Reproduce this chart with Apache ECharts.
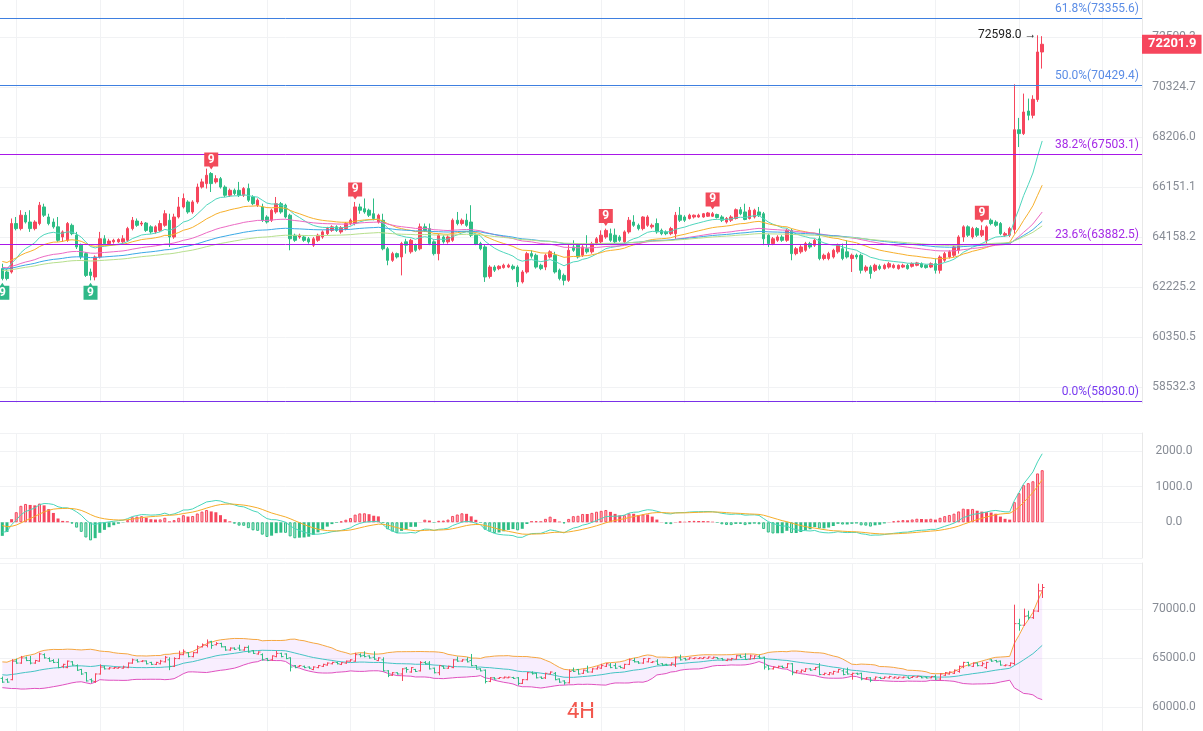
<!DOCTYPE html>
<html>
<head>
<meta charset="utf-8">
<title>BTC 4H</title>
<script src="https://cdn.jsdelivr.net/npm/echarts@6.0.0/dist/echarts.min.js"></script>
<style>
html,body{margin:0;padding:0;background:#ffffff;}
#chart{width:1203px;height:731px;}
</style>
</head>
<body>
<div id="chart"></div>
<script>
// ---------------- DATA ----------------
// 4H candles: [open, close, low, high]
const ohlc = [
[62940,62560,62490,63130],[62810,62560,62490,62940],[62810,64700,62750,64900],[64700,64500,64430,64960],[64500,65030,64430,65230],
[65030,64760,64700,65160],[64760,64500,64370,65230],[64500,64760,64430,64830],[64700,65430,64630,65560],[65360,65030,64960,65490],
[64960,64700,64630,65090],[64760,64570,64500,64900],[64570,64040,63980,64960],[64170,64370,63980,64430],[64040,64700,63980,64760],
[64630,64300,64240,64700],[64240,63780,63700,64370],[63850,63390,63300,63910],[63520,62680,62620,63580],[62810,62680,62490,62940],
[62620,63390,62490,63450],[63390,64100,63330,64370],[64100,63910,63850,64240],[63910,64010,63850,64100],[63980,64040,63910,64100],
[63980,64070,63940,64120],[63980,64100,63940,64240],[64040,64500,63980,64570],[64500,64830,64430,64960],[64800,64630,64570,64900],
[64680,64720,64600,64800],[64720,64430,64370,64760],[64570,64370,64300,64630],[64370,64570,64300,64630],[64430,64700,64370,64830],
[64630,65090,64570,65230],[64830,64170,63780,65090],[64170,64960,64100,65090],[64960,65360,64900,65760],[65360,65700,65300,65900],
[65560,65160,65090,65630],[65160,65560,65090,65630],[65560,66160,65490,66300],[66160,66370,66100,66500],[66300,66640,66100,66910],
[66710,66300,65960,66770],[66370,66500,66300,66640],[66500,66160,66100,66570],[66160,65830,65760,66230],[65830,66030,65760,66100],
[66030,65900,65830,66100],[66030,65830,65760,66370],[65830,66100,65760,66160],[66100,65630,65560,66300],[65760,65490,65430,65830],
[65430,65630,65360,65700],[65360,64830,64760,65490],[64960,64760,64700,65030],[64830,65230,64760,65290],[65160,65490,65090,65760],
[65490,65160,65090,65560],[65430,64960,64900,65490],[65030,64100,63650,65090],[64240,64040,63980,64300],[64170,64240,64100,64300],
[64170,64040,63980,64240],[64100,63980,63910,64170],[63850,64100,63780,64170],[64040,64240,63980,64300],[64170,64370,64100,64430],
[64300,64500,64240,64570],[64430,64570,64370,64630],[64570,64430,64370,64630],[64370,64540,64300,64600],[64500,64700,64430,64760],
[64700,64830,64630,64900],[64700,65360,64630,65560],[65360,65230,65090,65490],[65290,65160,65090,65700],[65230,65030,64960,65290],
[65090,64900,64830,65700],[64760,65030,64700,65090],[64830,63710,63650,65090],[63710,63260,63070,63780],[63260,63520,63200,63590],
[63520,63390,63330,63560],[63390,63910,62680,63980],[63980,63850,63520,64100],[63590,64040,63520,64100],[63850,63650,63590,63910],
[63710,64570,63650,64700],[64570,64430,64370,64700],[64500,63910,63850,64700],[63980,63520,63450,64040],[63520,64240,63260,64300],
[64170,63980,63910,64240],[63980,64170,63910,64240],[64040,64830,63980,64900],[64830,64700,64630,65160],[64700,64830,64630,64900],
[64830,64630,64570,65090],[64760,64240,64170,65430],[64240,63880,63850,64300],[63910,63710,63650,63980],[63780,62620,62430,63850],
[62640,63000,62560,63070],[63000,62880,62810,63070],[62940,63030,62880,63070],[62980,63070,62940,63130],[63000,63070,62960,63130],
[63030,62940,62880,63100],[63000,62430,62240,63070],[62430,62810,62370,62880],[62810,63520,62750,63590],[63520,63420,63330,63650],
[63456,63000,62940,63520],[63070,62940,62880,63130],[63000,63456,62880,63520],[63390,63590,63330,63650],[63456,62810,62750,63590],
[62880,62560,62490,62940],[62680,62490,62300,62750],[62490,63650,62430,63850],[63780,63650,63590,64040],[63850,63390,63330,63910],
[63456,63780,63390,63850],[63710,63590,63520,64240],[63590,63910,63520,63980],[63910,64100,63850,64170],[63980,64240,63910,64430],
[64170,64430,64100,64500],[64300,64040,63980,64500],[64240,63980,63910,64500],[64170,64040,63980,64240],[63980,64370,63910,64430],
[64370,64830,64300,64960],[64760,64630,64570,65030],[64630,64500,64430,64700],[64500,64960,64430,64990],[64630,64960,64570,65030],
[64570,64630,64500,64700],[64700,64370,64300,64900],[64430,64300,64240,64500],[64370,64300,64240,64430],[64300,64500,64240,64570],
[64300,65030,64100,65160],[65030,64830,64760,65360],[64960,64830,64760,65030],[64900,65030,64860,65090],[64960,65030,64900,65060],
[64960,65030,64930,65090],[64960,65090,64930,65120],[64990,65120,64960,65160],[64990,65090,64960,65160],[65060,64940,64900,65090],
[64960,64830,64760,65030],[64760,64900,64700,64960],[64830,64960,64760,65030],[64900,65250,64860,65300],[65250,65090,65030,65360],
[65160,64860,64830,65490],[64900,65230,64860,65360],[64960,65230,64900,65290],[65160,65030,64960,65360],[65090,64100,63850,65160],
[64240,63910,63780,64300],[63910,64100,63850,64170],[64040,64170,63980,64240],[64170,64040,63980,64240],[64040,64430,63980,64500],
[64430,63520,63262,64500],[63520,63710,63456,63780],[63590,63780,63520,63850],[63650,63910,63590,63980],[63910,63780,63710,63980],
[63850,64040,63780,64100],[64100,63330,63262,64500],[63330,63456,63262,63520],[63330,63520,63262,63590],[63390,63650,63330,63710],
[63590,63850,63520,63910],[63710,63330,63262,63910],[63590,63390,63330,64040],[63330,63456,62810,63520],[63456,63390,63300,63520],
[63456,62876,62750,63520],[62876,63000,62800,63069],[63000,62750,62555,63069],[62876,63069,62810,63130],[63030,62940,62880,63100],
[62940,63069,62900,63130],[63000,63130,62940,63200],[62980,63069,62940,63130],[62940,63069,62900,63100],[63000,63069,62960,63130],
[63069,62940,62900,63130],[63030,63130,62980,63180],[63069,63160,63030,63200],[63130,63000,62960,63180],[63069,62980,62940,63100],
[63000,63130,62960,63180],[63130,62876,62750,63330],[62876,63390,62750,63456],[63262,63520,63200,63590],[63390,63590,63330,63650],
[63456,63780,63390,63850],[63650,64170,63520,64240],[64170,64570,63980,64630],[64570,64240,64170,64630],[64170,64500,64100,64570],
[64500,64240,64170,64560],[64240,64430,64170,64630],[64040,64570,63910,64630],[64830,64700,64630,64900],[64760,64630,64570,64830],
[64700,64300,64240,64760],[64240,64300,64170,64370],[64240,64500,64170,64570],[64461,68521,64300,70453],[68521,68360,67800,69020],
[68360,69270,68300,70054],[69312,69130,68920,69840],[69130,69810,69000,69982],[69800,71860,69700,72598],[71860,72201.9,71134,72560]
];
const priceTicks = [58532.3, 60350.5, 62225.2, 64158.2, 66151.1, 68206.0, 70324.7, 72509.3];
const macdTicks = [0, 1000, 2000];
const bollTicks = [60000, 65000, 70000];
const fibNames  = ['0.0%', '23.6%', '38.2%', '50.0%', '61.8%'];
const fibPrices = [58030.0, 63882.5, 67503.1, 70429.4, 73355.6];
const emaPeriods = [14, 30, 60, 90, 120];
const emaSeeds   = [63030, 63262, 63000, 62940, 62880];  // line values at the left edge
const macdSeed  = [-280, -90];                          // DIF, DEA at the left edge
const bollSeed  = [63350, 650];                         // mid, sd at the left edge
const tdSell = [45, 76, 130, 153, 211];
const tdBuy  = [0, 19];
const highIdx = [223];
const highVal = [72598.0];
const lastPrice = 72201.9;
const rightPad = 21;

// ---------------- STYLE ----------------
const UP = '#F6465D', DOWN = '#2EBD85';
const UP_L = 'rgba(246,70,93,0.38)', DOWN_L = 'rgba(46,189,133,0.38)';
const maColors = ['#4fd6bd', '#f7b02c', '#ec6ac4', '#3ba9e6', '#b6df8c'];
const fibLineC = ['#7a30e8', '#a817e8', '#a817e8', '#3e7fe0', '#3e7fe0'];
const fibTextC = ['#7a3cf0', '#a52ae6', '#a52ae6', '#5b8de6', '#5b8de6'];
const GRIDC = '#f1f2f4', LABELC = '#878c95';
const W = 1142;

// ---------------- DERIVED ----------------
const n = ohlc.length;
const nSlots = n + rightPad;
const cats = Array.from({length: nSlots}, (_, i) => String(i));
const closes = ohlc.map(r => r[1]);
// log price scale (scaled so marker precision does not matter)
const T = p => Math.log(p) * 10000;

function ema(period, seed) {
  let e = seed; const a = 2 / (period + 1);
  return closes.map(c => (e += (c - e) * a));
}
function sma(period, seed) {
  return closes.map((_, i) => {
    let s = 0, c = 0;
    for (let k = Math.max(0, i - period + 1); k <= i; k++) { s += closes[k]; c++; }
    return (s + (period - c) * seed) / period;
  });
}
const mas = emaPeriods.map((p, j) => ema(p, emaSeeds[j]));

// MACD 12/26/9
const dif = [], dea = [], hist = [];
{
  let e12 = closes[0], e26 = closes[0] - macdSeed[0], d9 = macdSeed[1];
  for (let i = 0; i < n; i++) {
    if (i > 0) {
      e12 += (closes[i] - e12) * 2 / 13;
      e26 += (closes[i] - e26) * 2 / 27;
    }
    const d = e12 - e26;
    if (i > 0) d9 += (d - d9) * 2 / 10;
    dif.push(d); dea.push(d9); hist.push(2 * (d - d9));
  }
}
// BOLL 20,2
const bMid = sma(20, bollSeed[0]);
const bUp = [], bLo = [];
for (let i = 0; i < n; i++) {
  let s = 0, c = 0;
  for (let k = Math.max(0, i - 19); k <= i; k++) { s += (closes[k] - bMid[i]) ** 2; c++; }
  const m = 20 - c;
  s += m * (bollSeed[1] ** 2 + (bollSeed[0] - bMid[i]) ** 2);
  const sd = Math.sqrt(s / 20);
  bUp.push(bMid[i] + 2 * sd); bLo.push(bMid[i] - 2 * sd);
}

const vIdx = [];
for (let k = 3; k < nSlots; k += 18) vIdx.push(k);

const Y_MAX = T(74183), Y_MIN = T(57972);

// ---------------- CHART ----------------
const chart = echarts.init(document.getElementById('chart'), null, {renderer: 'canvas'});

const xAx = gi => ({type: 'category', gridIndex: gi, data: cats, boundaryGap: true,
  axisLine: {show: false}, axisTick: {show: false}, axisLabel: {show: false}, splitLine: {show: false}});

const gridLineSeries = gi => ({
  type: 'line', xAxisIndex: gi, yAxisIndex: gi, data: [], silent: true, z: 0,
  markLine: {silent: true, symbol: ['none', 'none'], animation: false, z: 0,
    label: {show: false}, lineStyle: {color: GRIDC, width: 1, type: 'solid'},
    data: vIdx.map(k => ({xAxis: k}))}
});

const sellPath = 'path://M0,0H14V14H9L7,17L5,14H0Z';
const buyPath = 'path://M5,3L7,0L9,3H14V17H0V3Z';

const markPts = [];
tdSell.forEach(i => markPts.push({coord: [i, T(ohlc[i][3])], symbol: sellPath, symbolSize: [14, 17],
  symbolOffset: [0, -11], itemStyle: {color: '#f24a5a'},
  label: {show: true, position: 'inside', formatter: '9', color: '#fff', fontSize: 12, fontWeight: 'bold', offset: [0, -1.5]}}));
tdBuy.forEach(i => markPts.push({coord: [i, T(ohlc[i][2])], symbol: buyPath, symbolSize: [14, 17],
  symbolOffset: [0, 11], itemStyle: {color: '#2fb888'},
  label: {show: true, position: 'inside', formatter: '9', color: '#fff', fontSize: 12, fontWeight: 'bold', offset: [0, 1.5]}}));
highIdx.forEach((i, j) => markPts.push({coord: [i, T(highVal[j])], symbol: 'circle', symbolSize: 0,
  itemStyle: {color: 'rgba(0,0,0,0)'},
  label: {show: true, position: 'left', distance: 1, formatter: highVal[j].toFixed(1) + ' →', color: '#222', fontSize: 12}}));

const fibMarks = fibPrices.map((p, j) => ({
  yAxis: T(p), lineStyle: {color: fibLineC[j], width: 1, type: 'solid'},
  label: {show: true, position: 'insideEndTop', distance: 3, formatter: fibNames[j] + '(' + p.toFixed(1) + ')',
    color: fibTextC[j], fontSize: 12}
}));

const series = [
  gridLineSeries(0), gridLineSeries(1), gridLineSeries(2),
  {
    name: 'K', type: 'candlestick', xAxisIndex: 0, yAxisIndex: 0, barWidth: 3,
    data: ohlc.map(r => r.map(T)),
    itemStyle: {color: UP, color0: DOWN, borderColor: UP, borderColor0: DOWN, borderWidth: 1},
    markLine: {silent: true, symbol: ['none', 'none'], animation: false, precision: 6, data: fibMarks},
    markPoint: {silent: true, animation: false, data: markPts}
  },
  // last price tag on the right axis
  {
    type: 'line', xAxisIndex: 0, yAxisIndex: 0, data: [], silent: true, z: 10,
    markLine: {silent: true, symbol: ['none', 'none'], animation: false, z: 10, precision: 6,
      data: [{yAxis: T(lastPrice),
        lineStyle: {color: 'rgba(255,255,255,0)', width: 1},
        label: {show: true, position: 'end', distance: 0, formatter: lastPrice.toFixed(1), backgroundColor: UP,
          color: '#ffffff', fontSize: 13, fontWeight: 'bold', padding: [3, 5, 2, 6], lineHeight: 14}}]}
  },
  ...mas.map((m, j) => ({type: 'line', xAxisIndex: 0, yAxisIndex: 0, data: m.map(T), showSymbol: false, silent: true,
    lineStyle: {color: maColors[j], width: 1}, itemStyle: {color: maColors[j]}, z: 3})),
  {
    type: 'bar', xAxisIndex: 1, yAxisIndex: 1, barWidth: 3,
    data: hist.map((h, i) => {
      const grow = i > 0 && Math.abs(h) > Math.abs(hist[i - 1]);
      const full = h >= 0 ? UP : DOWN, light = h >= 0 ? UP_L : DOWN_L;
      return {value: h, itemStyle: {color: grow ? light : full, borderColor: full, borderWidth: grow ? 1 : 0}};
    })
  },
  {type: 'line', xAxisIndex: 1, yAxisIndex: 1, data: dif, showSymbol: false, lineStyle: {color: '#48d6ba', width: 1}, z: 3},
  {type: 'line', xAxisIndex: 1, yAxisIndex: 1, data: dea, showSymbol: false, lineStyle: {color: '#f6ad2a', width: 1}, z: 3},
  {type: 'line', xAxisIndex: 2, yAxisIndex: 2, data: bLo, stack: 'boll', showSymbol: false, silent: true,
    lineStyle: {opacity: 0}, z: 1},
  {type: 'line', xAxisIndex: 2, yAxisIndex: 2, data: bUp.map((u, i) => u - bLo[i]), stack: 'boll', showSymbol: false, silent: true,
    lineStyle: {opacity: 0}, areaStyle: {color: 'rgba(214,160,248,0.25)'}, z: 1},
  {type: 'line', xAxisIndex: 2, yAxisIndex: 2, data: bUp, showSymbol: false, lineStyle: {color: '#f5a742', width: 1}, z: 3},
  {type: 'line', xAxisIndex: 2, yAxisIndex: 2, data: bMid, showSymbol: false, lineStyle: {color: '#45c4c4', width: 1}, z: 3},
  {type: 'line', xAxisIndex: 2, yAxisIndex: 2, data: bLo, showSymbol: false, lineStyle: {color: '#e052c0', width: 1}, z: 3},
  {
    type: 'custom', xAxisIndex: 2, yAxisIndex: 2, z: 4,
    data: ohlc.map((r, i) => [i, r[0], r[1], r[2], r[3]]),
    encode: {x: 0, y: [1, 2, 3, 4]},
    renderItem: (params, api) => {
      const i = api.value(0), o = api.value(1), c = api.value(2), lo = api.value(3), hi = api.value(4);
      const pO = api.coord([i, o]), pC = api.coord([i, c]), pL = api.coord([i, lo]), pH = api.coord([i, hi]);
      const x = Math.round(pO[0]) + 0.5;
      const col = c >= o ? UP : DOWN;
      const st = {stroke: col, lineWidth: 1};
      return {type: 'group', children: [
        {type: 'line', shape: {x1: x, y1: pH[1], x2: x, y2: pL[1]}, style: st},
        {type: 'line', shape: {x1: x - 2, y1: pO[1], x2: x, y2: pO[1]}, style: st},
        {type: 'line', shape: {x1: x, y1: pC[1], x2: x + 2, y2: pC[1]}, style: st}
      ]};
    }
  }
];

const yLabel = {color: LABELC, fontSize: 12, align: 'center', margin: 32};
const option = {
  animation: false,
  backgroundColor: '#ffffff',
  textStyle: {fontFamily: 'Roboto, "Noto Sans", sans-serif'},
  grid: [
    {left: 0, top: 0, width: W, height: 403},
    {left: 0, top: 433, width: W, height: 125},
    {left: 0, top: 563, width: W, height: 168}
  ],
  xAxis: [xAx(0), xAx(1), xAx(2)],
  yAxis: [
    {type: 'value', gridIndex: 0, position: 'right', min: Y_MIN, max: Y_MAX,
      axisLine: {show: true, lineStyle: {color: '#e8e8e8'}},
      axisTick: {show: false, customValues: priceTicks.map(T)},
      axisLabel: Object.assign({}, yLabel, {customValues: priceTicks.map(T), formatter: v => {
        let best = priceTicks[0];
        priceTicks.forEach(t => { if (Math.abs(T(t) - v) < Math.abs(T(best) - v)) best = t; });
        return best.toFixed(1);
      }}),
      splitLine: {show: true, lineStyle: {color: GRIDC}}},
    {type: 'value', gridIndex: 1, position: 'right', min: -1000, max: 2500, interval: 1000,
      axisLine: {show: true, lineStyle: {color: '#e8e8e8'}}, axisTick: {show: false},
      axisLabel: Object.assign({}, yLabel, {customValues: macdTicks, formatter: v => v.toFixed(1)}),
      splitLine: {show: true, lineStyle: {color: GRIDC}}},
    {type: 'value', gridIndex: 2, position: 'right', min: 57580, max: 74700,
      axisLine: {show: true, lineStyle: {color: '#e8e8e8'}},
      axisTick: {show: false, customValues: bollTicks.concat([74700])},
      axisLabel: Object.assign({}, yLabel, {customValues: bollTicks, formatter: v => v.toFixed(1)}),
      splitLine: {show: true, lineStyle: {color: GRIDC}}}
  ],
  graphic: [{type: 'text', x: 581, y: 712, silent: true,
    style: {text: '4H', fontSize: 22, fill: '#f2574d', align: 'center', verticalAlign: 'middle',
      fontFamily: 'Roboto, sans-serif'}}],
  series: series
};
chart.setOption(option);
</script>
</body>
</html>
